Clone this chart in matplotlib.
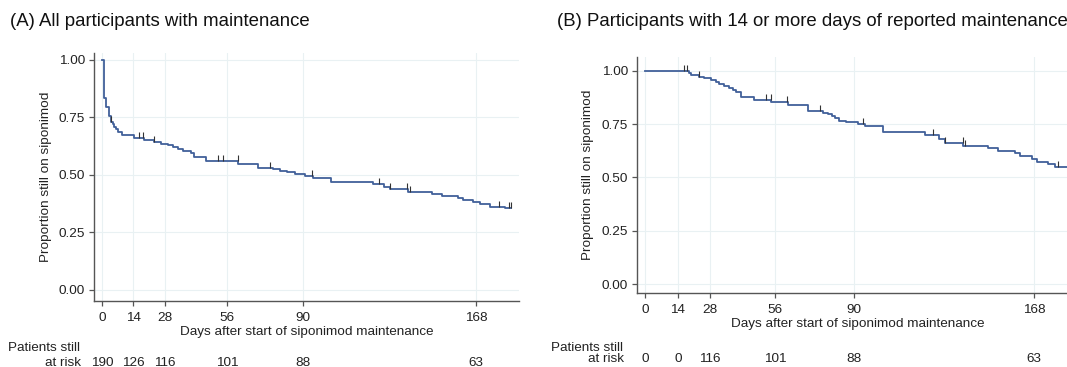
import numpy as np
import matplotlib
matplotlib.use("Agg")
import matplotlib.pyplot as plt
from matplotlib import transforms

plt.rcParams['font.family'] = ['Liberation Sans', 'DejaVu Sans']

# Kaplan-Meier steps (day, proportion after the step)
left_days = [0, 0.7, 1.8, 2.9, 3.9, 4.7, 5.4, 6.3, 7.2, 8.7, 14.1, 18.9, 23.4, 26.4, 29.4,
             31.6, 33.9, 36.1, 39.8, 41.3, 46.6, 61.1, 70.1, 76.8, 79.8, 82.8, 86.5, 91.0,
             94.8, 102.7, 121.8, 126.5, 129.2, 137.2, 148.0, 152.5, 160.0, 162.2, 166.7,
             169.7, 174.2, 181.0, 183.4]
left_surv = [1.0, 0.836, 0.797, 0.754, 0.732, 0.722, 0.710, 0.700, 0.688, 0.675, 0.662, 0.652,
             0.642, 0.636, 0.630, 0.622, 0.613, 0.604, 0.594, 0.580, 0.562, 0.548, 0.532, 0.526,
             0.519, 0.511, 0.504, 0.497, 0.488, 0.470, 0.459, 0.446, 0.438, 0.425, 0.417, 0.409,
             0.401, 0.391, 0.381, 0.372, 0.362, 0.355, 0.355]
left_censor = [3.9, 16.3, 18.4, 23.4, 51.8, 54.4, 60.8, 75.3, 94.4, 124.3, 129.2, 136.7,
               138.2, 178.4, 182.5, 183.4]

right_days = [0, 18.7, 19.7, 23.3, 25.4, 28.3, 30.5, 31.9, 34.1, 36.2, 37.7, 39.1, 41.3, 47.1,
              54.5, 61.8, 70.1, 76.9, 79.1, 80.5, 81.9, 83.7, 86.9, 92.0, 94.9, 102.5, 120.8,
              126.9, 129.5, 137.4, 148.2, 152.5, 159.7, 162.0, 167.0, 169.1, 173.9, 177.0, 183.4]
right_surv = [1.0, 0.988, 0.980, 0.972, 0.964, 0.957, 0.949, 0.938, 0.928, 0.919, 0.910, 0.899,
              0.876, 0.863, 0.852, 0.839, 0.811, 0.803, 0.797, 0.788, 0.777, 0.766, 0.758, 0.749,
              0.743, 0.714, 0.699, 0.680, 0.663, 0.647, 0.636, 0.625, 0.613, 0.600, 0.585, 0.574,
              0.562, 0.551, 0.551]
right_censor = [16.5, 18.2, 23.3, 52.1, 54.3, 61.0, 75.4, 94.2, 124.4, 129.5, 137.1, 138.1, 178.5]

xticks = [0, 14, 28, 56, 90, 168]
yticks = [0.0, 0.25, 0.5, 0.75, 1.0]
left_risk = ['190', '126', '116', '101', '88', '63']
right_risk = ['0', '0', '116', '101', '88', '63']

W, H = 1067, 367
line_col = '#41609a'
grid_col = '#e9f1f3'
spine_col = '#555555'
fs = 9.7

fig = plt.figure(figsize=(W / 100, H / 100), dpi=100)


def px(x, y):
    # pixel position (from top-left) -> figure fraction
    return x / W, 1 - y / H


def panel(rect, days, surv, censor, risk, ylim, title, title_x, risk_y, label_x):
    ax = fig.add_axes(rect)
    ax.set_xlim(-3.7, 187.2)
    ax.set_ylim(*ylim)
    ax.set_xticks(xticks)
    ax.set_yticks(yticks)
    ax.set_yticklabels(['%.2f' % v for v in yticks])
    ax.grid(True, color=grid_col, lw=0.8)
    ax.set_axisbelow(True)
    for s in ['top', 'right']:
        ax.spines[s].set_visible(False)
    for s in ['left', 'bottom']:
        ax.spines[s].set_color(spine_col)
        ax.spines[s].set_linewidth(1.0)
    ax.tick_params(colors=spine_col, labelcolor='#222222', labelsize=fs, length=3.5, width=0.9)
    ax.tick_params(axis='x', pad=4.5)
    ax.tick_params(axis='y', pad=3)

    ax.step(days, surv, where='post', color=line_col, lw=1.3)
    cy = [surv[np.searchsorted(days, c, side='right') - 1] for c in censor]
    ax.plot(censor, cy, ls='none', marker=2, ms=4, mew=0.8, color='#333333')

    ax.set_ylabel('Proportion still on siponimod', fontsize=fs, color='#222222', labelpad=5)
    ax.set_xlabel('Days after start of siponimod maintenance', fontsize=fs, color='#222222',
                  labelpad=1.5)

    fx, fy = px(title_x, 22)
    fig.text(fx, fy, title, fontsize=13.4, color='#111111', va='center', ha='left')

    tr = transforms.blended_transform_factory(ax.transData, fig.transFigure)
    for d, r in zip(xticks, risk):
        ax.text(d, px(0, risk_y)[1], r, transform=tr, ha='center', va='center',
                fontsize=fs, color='#222222')
    fx, fy = px(label_x - 73, 348)
    fig.text(fx, fy, 'Patients still', fontsize=fs, color='#222222', ha='left', va='center')
    fx, fy = px(label_x, risk_y)
    fig.text(fx, fy, 'at risk', fontsize=fs, color='#222222', ha='right', va='center')
    return ax


panel([94 / W, 1 - 301 / H, 425 / W, 248 / H], left_days, left_surv, left_censor, left_risk,
      (-0.048, 1.030), '(A) All participants with maintenance', 10, 363, 81)
panel([636.8 / W, 1 - 293 / H, 441.7 / W, 236 / H], right_days, right_surv, right_censor,
      right_risk, (-0.041, 1.064), '(B) Participants with 14 or more days of reported maintenance',
      557, 359, 624)

fig.savefig('out.png', dpi=100)
